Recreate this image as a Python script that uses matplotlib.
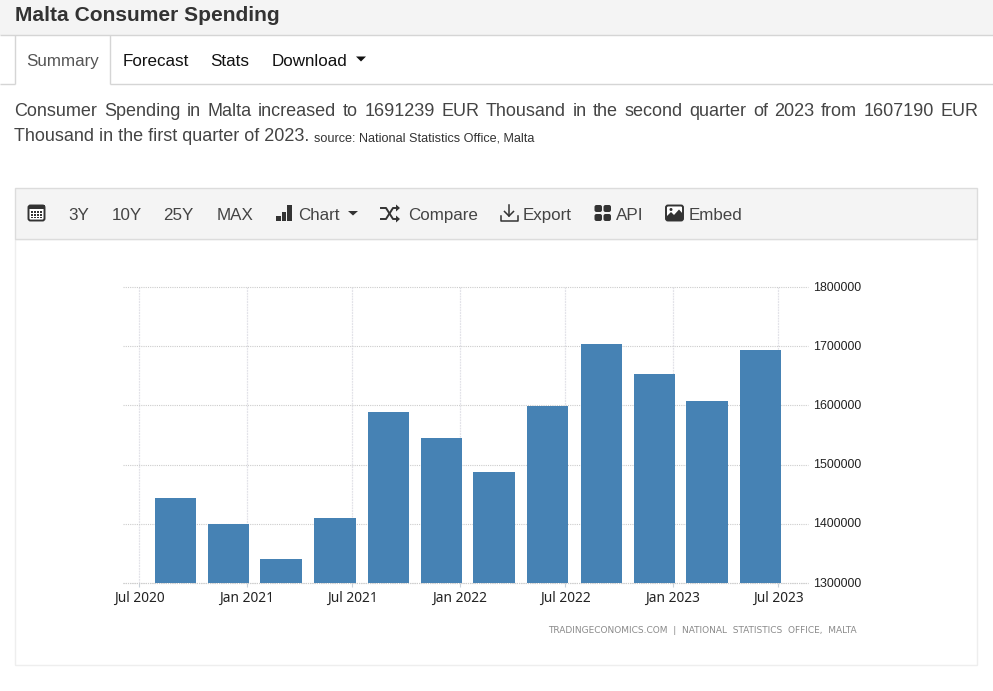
import matplotlib
matplotlib.use("Agg")
import matplotlib.pyplot as plt
import matplotlib.dates as mdates
from matplotlib.patches import Rectangle, FancyBboxPatch, Polygon, Circle
from matplotlib.transforms import ScaledTranslation
from datetime import date

quarters = ["2020-09-01", "2020-12-01", "2021-03-01", "2021-06-01", "2021-09-01", "2021-12-01",
            "2022-03-01", "2022-06-01", "2022-09-01", "2022-12-01", "2023-03-01", "2023-06-01"]
spending = [1443000, 1399000, 1341000, 1410000, 1589000, 1545000,
            1488000, 1599000, 1704000, 1653000, 1607190, 1693000]
y_ticks = [1300000, 1400000, 1500000, 1600000, 1700000, 1800000]
x_ticks = ["2020-07-01", "2021-01-01", "2021-07-01", "2022-01-01", "2022-07-01", "2023-01-01", "2023-07-01"]
x_labels = ["Jul 2020", "Jan 2021", "Jul 2021", "Jan 2022", "Jul 2022", "Jan 2023", "Jul 2023"]

title = "Malta Consumer Spending"
line1 = "Consumer Spending in Malta increased to 1691239 EUR Thousand in the second quarter of 2023 from 1607190 EUR"
line2 = "Thousand in the first quarter of 2023."
source = "source: National Statistics Office, Malta"
credit = "TRADINGECONOMICS.COM  |  NATIONAL  STATISTICS  OFFICE,  MALTA"

W, H = 993, 691
SANS = "Liberation Sans"
DARK = "#333333"
fig = plt.figure(figsize=(W / 100, H / 100), dpi=100, facecolor="white")

page = fig.add_axes([0, 0, 1, 1], zorder=0)
page.set_xlim(0, W)
page.set_ylim(H, 0)
page.axis("off")


def px(size):
    return size * 0.72


def label(x, y, s, size, color=DARK, weight="normal", ha="left", family=SANS):
    return page.text(x, y, s, fontsize=px(size), color=color, fontweight=weight, ha=ha,
                     va="baseline", family=family)


def hline(y, x0, x1, color="#d5d5d5", lw=1.0):
    page.plot([x0, x1], [y, y], color=color, lw=lw, solid_capstyle="butt")


def vline(x, y0, y1, color="#d5d5d5", lw=1.0):
    page.plot([x, x], [y0, y1], color=color, lw=lw, solid_capstyle="butt")


# page header
page.add_patch(Rectangle((0, 0), W, 35, fc="#f4f4f4", ec="none"))
hline(35, 0, W)
label(15, 21, title, 21, weight="bold")

# tabs
hline(84, 0, 15)
hline(84, 110, W)
vline(15, 35, 84)
vline(110, 35, 84)
label(26.5, 66, "Summary", 17, color="#555555")
label(122.5, 66, "Forecast", 17, color="#111111")
label(210.5, 66, "Stats", 17, color="#111111")
label(271.5, 66, "Download", 17, color="#111111")
page.add_patch(Polygon([[356, 56.5], [366, 56.5], [361, 61.5]], fc="#111111", ec="none"))

# justified intro
renderer = fig.canvas.get_renderer()
words = line1.split(" ")
items = [label(0, 116, w, 18, color="#444444") for w in words]
widths = [t.get_window_extent(renderer).width for t in items]
gap = (978.5 - 14.5 - sum(widths)) / (len(words) - 1)
x = 14.5
for t, w in zip(items, widths):
    t.set_x(x)
    x += w + gap
label(14.5, 141, line2, 18, color="#444444")
label(314.5, 141, source, 12.6, color="#333333")

# chart panel and toolbar
page.add_patch(Rectangle((15, 239), 962, 426, fc="white", ec="#eeeeee", lw=1))
page.add_patch(Rectangle((15, 188), 962, 51, fc="#f4f4f4", ec="#dcdcdc", lw=1))

# toolbar icons
page.add_patch(FancyBboxPatch((28.5, 205.5), 16, 15, boxstyle="round,pad=0,rounding_size=2", fc="white", ec="#333333", lw=1.4))
page.add_patch(Rectangle((28.5, 205), 16, 4, fc="#333333", ec="none"))
for r in range(3):
    for c in range(4):
        page.add_patch(Rectangle((31 + c * 3, 211 + r * 2.8), 2, 1.8, fc="#333333", ec="none"))
for bx, bh in zip([276, 281.5, 287], [5, 9, 16]):
    page.add_patch(Rectangle((bx, 221 - bh), 4.5, bh, fc="#333333", ec="none"))
page.add_patch(Polygon([[348, 211], [358, 211], [353, 215.5]], fc="#333333", ec="none"))
page.plot([381, 386, 393, 397], [219, 219, 208, 208], color="#333333", lw=1.4)
page.plot([381, 386, 393, 397], [208, 208, 219, 219], color="#333333", lw=1.4)
page.add_patch(Polygon([[396, 204.5], [400, 208], [396, 211.5]], fc="#333333", ec="none"))
page.add_patch(Polygon([[396, 215.5], [400, 219], [396, 222.5]], fc="#333333", ec="none"))
page.plot([509, 509], [205, 216], color="#333333", lw=1.1)
page.plot([504.5, 509, 513.5], [211.5, 216, 211.5], color="#333333", lw=1.1)
page.plot([500.5, 500.5, 517.5, 517.5], [216, 220.5, 220.5, 216], color="#333333", lw=1.1)
for bx, by in [(594.5, 205), (603.5, 205), (594.5, 214), (603.5, 214)]:
    page.add_patch(FancyBboxPatch((bx, by), 7.5, 7, boxstyle="round,pad=0,rounding_size=2", fc="#333333", ec="none"))
page.add_patch(FancyBboxPatch((666, 205.5), 17, 15, boxstyle="round,pad=0,rounding_size=2", fc="white", ec="#333333", lw=1.4))
page.add_patch(Polygon([[667, 220], [667, 216], [671, 212], [674, 215], [679, 209.5], [683, 214], [683, 220]], fc="#333333", ec="none"))
page.add_patch(Circle((671, 209.5), 1.5, fc="#333333", ec="none"))

for x_pos, s in [(68, "3Y"), (111.5, "10Y"), (163.5, "25Y"), (216.5, "MAX"), (298.5, "Chart"),
                 (408, "Compare"), (522.5, "Export"), (615.5, "API"), (688.5, "Embed")]:
    label(x_pos, 220, s, 17, color="#444444")

# chart
left, right, top, bottom = 123, 808, 287, 583
ax = fig.add_axes([left / W, 1 - bottom / H, (right - left) / W, (bottom - top) / H], zorder=1)
ax.patch.set_alpha(0)
bar_dates = [mdates.date2num(date.fromisoformat(d)) for d in quarters]
tick_dates = [mdates.date2num(date.fromisoformat(d)) for d in x_ticks]
ax.bar(bar_dates, spending, width=71, color="#4682b4", zorder=3)
ax.set_xlim(mdates.date2num(date(2020, 6, 3)), mdates.date2num(date(2023, 8, 21)))
ax.set_ylim(1300000, 1800000)
ax.set_xticks(tick_dates, x_labels)
ax.set_yticks(y_ticks, [str(v) for v in y_ticks])
ax.yaxis.tick_right()
for s in ax.spines.values():
    s.set_visible(False)
ax.grid(axis="y", color="#cccccc", lw=0.8, ls=(0, (1, 1)), zorder=1)
ax.grid(axis="x", color="#e2e2e8", lw=0.9, ls=(0, (1.5, 0.7)), zorder=1)
for gl in ax.get_ygridlines() + ax.get_xgridlines():
    gl.set_clip_on(False)
ax.tick_params(axis="x", length=3, width=0.8, color="#c8d0d8", pad=2.5, labelsize=9.9, labelcolor="#222222")
ax.tick_params(axis="y", length=0, pad=4, labelcolor="#222222")
for t in ax.get_xticklabels():
    t.set_family("Noto Sans")
shift_up = ScaledTranslation(0, 1 / 100, fig.dpi_scale_trans)
for t in ax.get_yticklabels():
    t.set_family(SANS)
    t.set_fontsize(px(12.4))
    t.set_transform(t.get_transform() + shift_up)
ax.plot([0, 1], [0, 0], transform=ax.transAxes, color="#cccccc", lw=0.8, ls=(0, (1, 1)), clip_on=False, zorder=2)

page.text(857, 630.5, credit, fontsize=6.46, color="#8a8a8a", ha="right", va="center", family="DejaVu Sans")

fig.savefig("out.png", dpi=100, facecolor="white")
